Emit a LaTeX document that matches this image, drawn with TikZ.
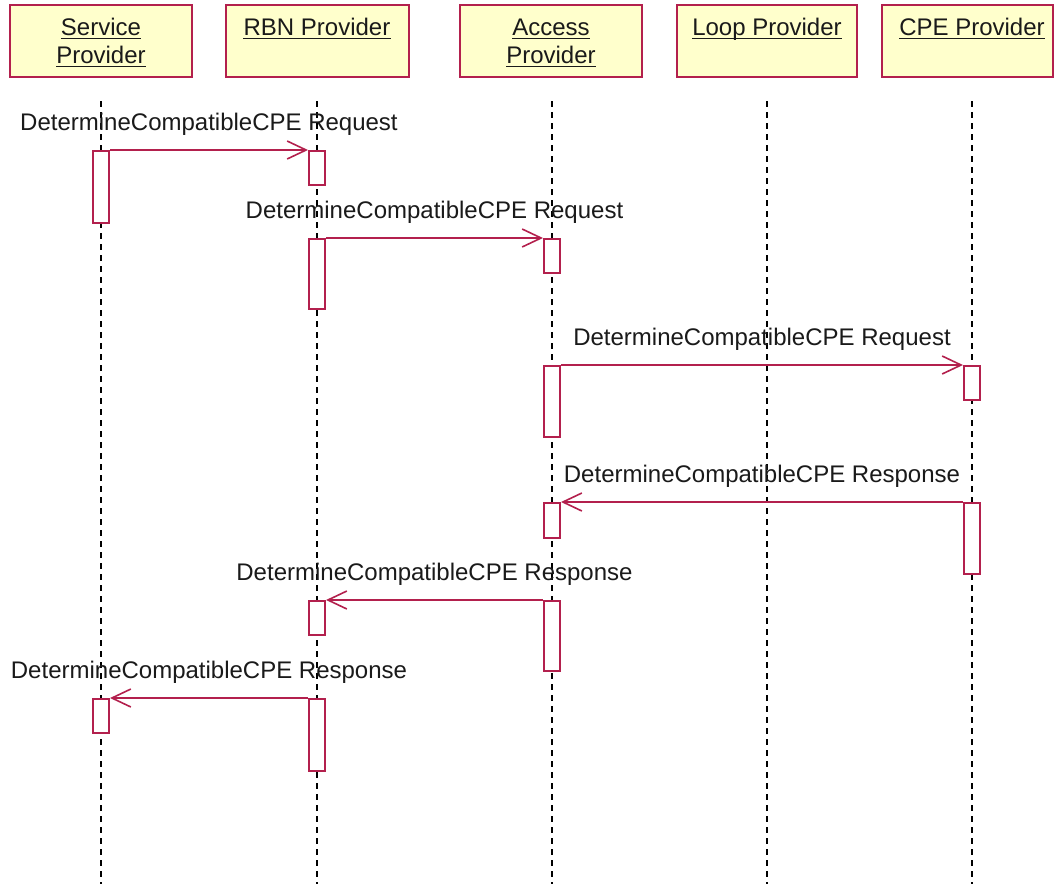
\documentclass[tikz,border=0pt]{standalone}
\usepackage{fontspec}
\setmainfont{Liberation Sans}
\usetikzlibrary{arrows.meta}
\definecolor{umlred}{HTML}{B3204D}
\definecolor{umlyel}{HTML}{FFFFCC}
\definecolor{txt}{HTML}{1A1A1A}
\begin{document}
\begin{tikzpicture}[x=1pt,y=-1pt,
  head/.style={draw=umlred, fill=umlyel, line width=2pt, minimum height=72pt, inner sep=0pt},
  htext/.style={anchor=base, font=\fontsize{24}{28}\selectfont, text=txt, inner sep=0pt},
  uline/.style={draw=txt, line width=1.6pt},
  life/.style={draw=black, line width=1.6pt, dash pattern=on 6pt off 5pt},
  act/.style={draw=umlred, fill=white, line width=2pt, minimum width=16pt, inner sep=0pt, anchor=north},
  msg/.style={draw=umlred, line width=2pt, -{Straight Barb[length=19pt,width=18pt,line width=1.6pt]}},
  lbl/.style={font=\fontsize{24}{28}\selectfont, text=txt, anchor=base, inner sep=0pt, yshift=20pt}]
\useasboundingbox (0,0) rectangle (1054,884);
\fill[white] (0,0) rectangle (1054,884);

% header boxes
\node[head, minimum width=182pt] (hS) at (101,41) {};
\node[head, minimum width=183pt] (hR) at (317.5,41) {};
\node[head, minimum width=182pt] (hA) at (551,41) {};
\node[head, minimum width=180pt] (hL) at (767,41) {};
\node[head, minimum width=171pt] (hC) at (967.5,41) {};

% header texts
\node[htext] (tS1) at (101,35) {Service~};
\node[htext] (tS2) at (101,63) {Provider};
\node[htext] (tR) at (317,35) {RBN Provider};
\node[htext] (tA1) at (551,35) {Access~};
\node[htext] (tA2) at (551,63) {Provider};
\node[htext] (tL) at (767,35) {Loop Provider};
\node[htext] (tC) at (972,35) {CPE Provider};
\foreach \n in {tS1,tS2,tR,tA1,tA2,tL,tC}
  \draw[uline] ([yshift=-3.5pt]\n.base west) -- ([yshift=-3.5pt]\n.base east);

% lifelines
\coordinate (lS0) at (101,101); \coordinate (lS1) at (101,884);
\coordinate (lR0) at (317,101); \coordinate (lR1) at (317,884);
\coordinate (lA0) at (552,101); \coordinate (lA1) at (552,884);
\coordinate (lL0) at (767,101); \coordinate (lL1) at (767,884);
\coordinate (lC0) at (972,101); \coordinate (lC1) at (972,884);
\draw[life] (lS0) -- (lS1);
\draw[life] (lR0) -- (lR1);
\draw[life] (lA0) -- (lA1);
\draw[life] (lL0) -- (lL1);
\draw[life] (lC0) -- (lC1);

% activation bars
\node[act, minimum height=72pt] (s1) at (101,150) {};
\node[act, minimum height=34pt] (r1) at (317,150) {};
\node[act, minimum height=70pt] (r2) at (317,238) {};
\node[act, minimum height=34pt] (a1) at (552,238) {};
\node[act, minimum height=71pt] (a2) at (552,365) {};
\node[act, minimum height=34pt] (c1) at (972,365) {};
\node[act, minimum height=71pt] (c2) at (972,502) {};
\node[act, minimum height=35pt] (a3) at (552,502) {};
\node[act, minimum height=70pt] (a4) at (552,600) {};
\node[act, minimum height=34pt] (r3) at (317,600) {};
\node[act, minimum height=72pt] (r4) at (317,698) {};
\node[act, minimum height=34pt] (s2) at (101,698) {};

% messages
\draw[msg] (s1.north east) -- (r1.north west) node[lbl, midway] {DetermineCompatibleCPE Request};
\draw[msg] (r2.north east) -- (a1.north west) node[lbl, midway] {DetermineCompatibleCPE Request};
\draw[msg] (a2.north east) -- (c1.north west) node[lbl, midway] {DetermineCompatibleCPE Request};
\draw[msg] (c2.north west) -- (a3.north east) node[lbl, midway] {DetermineCompatibleCPE Response};
\draw[msg] (a4.north west) -- (r3.north east) node[lbl, midway] {DetermineCompatibleCPE Response};
\draw[msg] (r4.north west) -- (s2.north east) node[lbl, midway] {DetermineCompatibleCPE Response};
\end{tikzpicture}
\end{document}
